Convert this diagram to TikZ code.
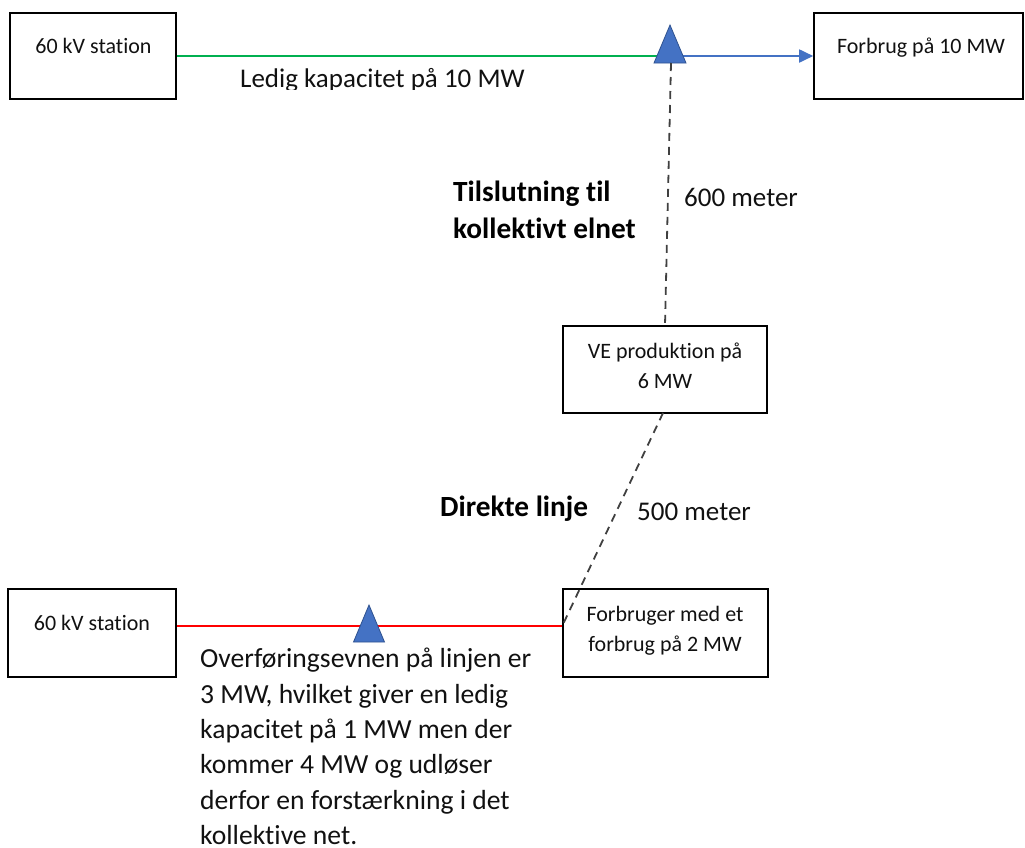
\documentclass[tikz,border=0pt]{standalone}
\usepackage{fontspec}
\setmainfont{Carlito}[Ligatures=NoCommon]
\usetikzlibrary{arrows.meta}
\definecolor{lgreen}{HTML}{00B050}
\definecolor{lblue}{HTML}{4472C4}
\definecolor{dblue}{HTML}{2F528F}
\definecolor{lred}{HTML}{FF0000}
\definecolor{dgray}{HTML}{404040}
\definecolor{txt}{HTML}{111111}
\tikzset{
  box/.style={draw=black, line width=1.6pt, inner sep=0pt},
  boxtext/.style={anchor=base, inner sep=0pt, text=txt, font=\fontsize{22}{30}\selectfont},
  bigtext/.style={inner sep=0pt, text=txt, font=\fontsize{27}{35.5}\selectfont},
  paratext/.style={inner sep=0pt, text=txt, font=\fontsize{27.6}{35.4}\selectfont},
  boldtext/.style={inner sep=0pt, text=black, font=\fontsize{29.3}{37}\selectfont\bfseries},
  wire/.style={line width=1.8pt},
  dashwire/.style={draw=dgray, line width=1.8pt, dash pattern=on 8pt off 6pt},
  tri/.style={fill=lblue, draw=dblue, line width=0.8pt, line join=miter}
}
\begin{document}
\begin{tikzpicture}[x=1pt,y=-1pt]
\useasboundingbox (0,0) rectangle (1025,847);
% boxes
\node[box, minimum width=166pt, minimum height=86pt] (s1) at (93,56) {};
\node[box, minimum width=209pt, minimum height=86pt] (f1) at (918.5,56) {};
\node[box, minimum width=204pt, minimum height=87pt] (ve) at (665,369.5) {};
\node[box, minimum width=168pt, minimum height=88pt] (s2) at (92,633) {};
\node[box, minimum width=205pt, minimum height=88pt] (fb) at (665.5,633) {};
% box texts
\node[boxtext] (s1t) at (93.5,53) {60 kV station};
\node[boxtext] (f1t) at (921,53) {Forbrug på 10 MW};
\node[boxtext] (vet1) at (665,358) {VE produktion på};
\node[boxtext] (vet2) at (665,388) {6 MW};
\node[boxtext] (s2t) at (92,630) {60 kV station};
\node[boxtext] (fbt1) at (665,621) {Forbruger med et};
\node[boxtext] (fbt2) at (665,651) {forbrug på 2 MW};
% coordinates
\coordinate (t1l) at (662,56);
\coordinate (t1r) at (680,56);
\coordinate (t1b) at (671,63);
\coordinate (ry) at (0,626);
% top lines
\draw[wire, lgreen] (s1.east) -- (t1l);
\draw[wire, lblue, -{Triangle[length=14pt,width=13pt]}] (t1r) -- (f1.west);
\draw[tri] (670,25) -- (686,63) -- (654,63) -- cycle;
% dashed connectors
\draw[dashwire] (t1b) -- (ve.north);
\draw[dashwire] (663,413) -- (fb.west |- ry);
% bottom red line
\draw[wire, lred] (s2.east |- ry) -- (fb.west |- ry);
\draw[tri] (369,605) -- (384.5,642) -- (353.5,642) -- cycle;
% labels
\begin{scope}
\clip (200,55) rectangle (560,89);
\node[bigtext, anchor=base west] (ledig) at (240,87.5) {Ledig kapacitet på 10 MW};
\end{scope}
\node[boldtext, anchor=base west] (til1) at (453,201) {Tilslutning til};
\node[boldtext, anchor=base west] (til2) at (453,238) {kollektivt elnet};
\node[bigtext, anchor=base west] (m600) at (684,206) {600 meter};
\node[boldtext, anchor=base west] (dir) at (440,516) {Direkte linje};
\node[bigtext, anchor=base west] (m500) at (637,520) {500 meter};
\node[paratext, anchor=north west, align=left] (para) at (200,648) {Overføringsevnen på linjen er\\3 MW, hvilket giver en ledig\\kapacitet på 1 MW men der\\kommer 4 MW og udløser\\derfor en forstærkning i det\\kollektive net.};
\end{tikzpicture}
\end{document}
